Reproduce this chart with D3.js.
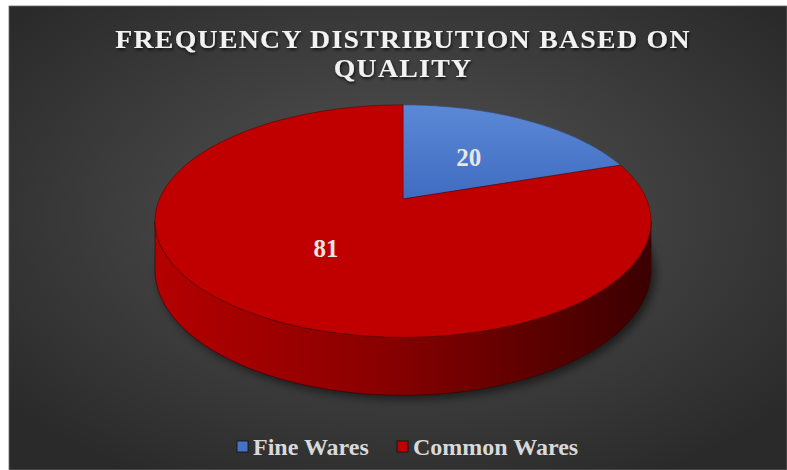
<!DOCTYPE html>
<html>
<head>
<meta charset="utf-8">
<script src="https://cdn.jsdelivr.net/npm/d3@7"></script>
<style>
  body { margin: 0; background: #fff; }
  text { font-family: "Times New Roman", "Liberation Serif", serif; font-weight: bold; }
</style>
</head>
<body>
<div class="chart"></div>
<script>
var categories = ["Fine Wares", "Common Wares"];
var counts = [20, 81];
var topColors = ["#4472c4", "#c00000"];
var titleLines = ["FREQUENCY DISTRIBUTION BASED ON", "QUALITY"];

var width = 787, height = 470;
// pie seen in perspective: centre, radii, perspective factor, thickness
var cx = 403, cy = 199, rx = 243.5, ry = 112, persp = 0.19, thick = 47;

var svg = d3.select('.chart').append('svg').attr('width', width).attr('height', height);
var defs = svg.append('defs');

var bg = defs.append('radialGradient').attr('id', 'bgGrad')
    .attr('cx', '50%').attr('cy', '45%').attr('r', '65%');
bg.append('stop').attr('offset', '0%').attr('stop-color', '#555555');
bg.append('stop').attr('offset', '100%').attr('stop-color', '#2a2a2a');

var side = defs.append('linearGradient').attr('id', 'sideGrad')
    .attr('gradientUnits', 'userSpaceOnUse')
    .attr('x1', cx - rx).attr('x2', cx + rx).attr('y1', 0).attr('y2', 0);
side.append('stop').attr('offset', '0%').attr('stop-color', '#b30000');
side.append('stop').attr('offset', '45%').attr('stop-color', '#8a0000');
side.append('stop').attr('offset', '100%').attr('stop-color', '#3c0000');

var blueGrad = defs.append('linearGradient').attr('id', 'blueGrad')
    .attr('x1', 0).attr('x2', 0).attr('y1', 0).attr('y2', 1);
blueGrad.append('stop').attr('offset', '0%').attr('stop-color', '#5b88d6');
blueGrad.append('stop').attr('offset', '100%').attr('stop-color', '#3f6cc0');

defs.append('filter').attr('id', 'txtShadow')
  .append('feDropShadow').attr('dx', 1).attr('dy', 2).attr('stdDeviation', 1.5)
  .attr('flood-color', '#000').attr('flood-opacity', 0.7);

defs.append('filter').attr('id', 'blur').attr('x', '-20%').attr('y', '-20%').attr('width', '140%').attr('height', '140%')
  .append('feGaussianBlur').attr('stdDeviation', 5);

svg.append('rect').attr('x', 9).attr('y', 6).attr('width', width - 9).attr('height', height - 6)
    .attr('fill', 'url(#bgGrad)').attr('stroke', '#6a6a6a').attr('stroke-width', 0.8);

// title
svg.append('g').attr('transform', 'translate(' + cx + ',0) scale(1.07,1)')
  .selectAll('text').data(titleLines).enter().append('text')
    .attr('x', 0).attr('y', function(d, i) { return 48 + i * 29; })
    .attr('text-anchor', 'middle').attr('font-size', 26).attr('letter-spacing', 1.2)
    .attr('fill', '#f2f2f2').attr('filter', 'url(#txtShadow)')
    .text(function(d) { return d; });

// project a point of the disc (angle a, radius fraction f) with perspective
function pt(a, f, drop) {
  f = f === undefined ? 1 : f;
  var u = f * Math.sin(a), v = f * Math.cos(a), k = 1 + persp * v;
  return [cx + rx * u / k, cy - ry * v / k + (drop ? thick / k : 0)];
}

function rim(a0, a1, drop) {
  var n = Math.max(2, Math.ceil((a1 - a0) / 0.02));
  return d3.range(n + 1).map(function(i) { return pt(a0 + (a1 - a0) * i / n, 1, drop); });
}

var pie = d3.pie().sort(null).value(function(d) { return d; });
var arcs = pie(counts);
var line = d3.line();

// shadow under the pie
var lowA = Math.acos(-persp);
svg.append('path')
    .attr('d', line(rim(0, 2 * Math.PI, true)) + 'Z')
    .attr('transform', 'translate(4,4)')
    .attr('fill', '#000').attr('opacity', 0.55).attr('filter', 'url(#blur)');

// side walls: only the front part between the two silhouette points
svg.append('g').selectAll('path').data(arcs).enter().append('path')
    .attr('d', function(d) {
      var a0 = Math.max(d.startAngle, lowA), a1 = Math.min(d.endAngle, 2 * Math.PI - lowA);
      if (a1 <= a0) return null;
      var pts = rim(a0, a1, false).concat(rim(a0, a1, true).reverse());
      return line(pts) + 'Z';
    })
    .attr('fill', 'url(#sideGrad)').attr('stroke', '#3a0000').attr('stroke-width', 0.6);

// top faces
svg.append('g').selectAll('path').data(arcs).enter().append('path')
    .attr('d', function(d) {
      return line([[cx, cy]].concat(rim(d.startAngle, d.endAngle, false))) + 'Z';
    })
    .attr('fill', function(d, i) { return i === 0 ? 'url(#blueGrad)' : topColors[i]; })
    .attr('stroke', function(d, i) { return i === 0 ? '#2f4f80' : '#5a0000'; })
    .attr('stroke-width', 0.6);

// value labels
svg.append('g').selectAll('text').data(arcs).enter().append('text')
    .attr('x', function(d) { return pt((d.startAngle + d.endAngle) / 2, 0.5)[0]; })
    .attr('y', function(d) { return pt((d.startAngle + d.endAngle) / 2, 0.5)[1] + 9; })
    .attr('text-anchor', 'middle').attr('font-size', 25).attr('fill', '#e6e6e6')
    .text(function(d) { return d.data; });

// legend
var legend = svg.append('g');
var lx = [237, 397];
categories.forEach(function(c, i) {
  legend.append('rect').attr('x', lx[i]).attr('y', 441).attr('width', 11).attr('height', 11)
      .attr('fill', topColors[i]).attr('stroke', '#111').attr('stroke-width', 0.8);
  legend.append('text').attr('x', lx[i] + 16).attr('y', 455)
      .attr('font-size', 24).attr('fill', '#d9d9d9').text(c);
});
</script>
</body>
</html>
